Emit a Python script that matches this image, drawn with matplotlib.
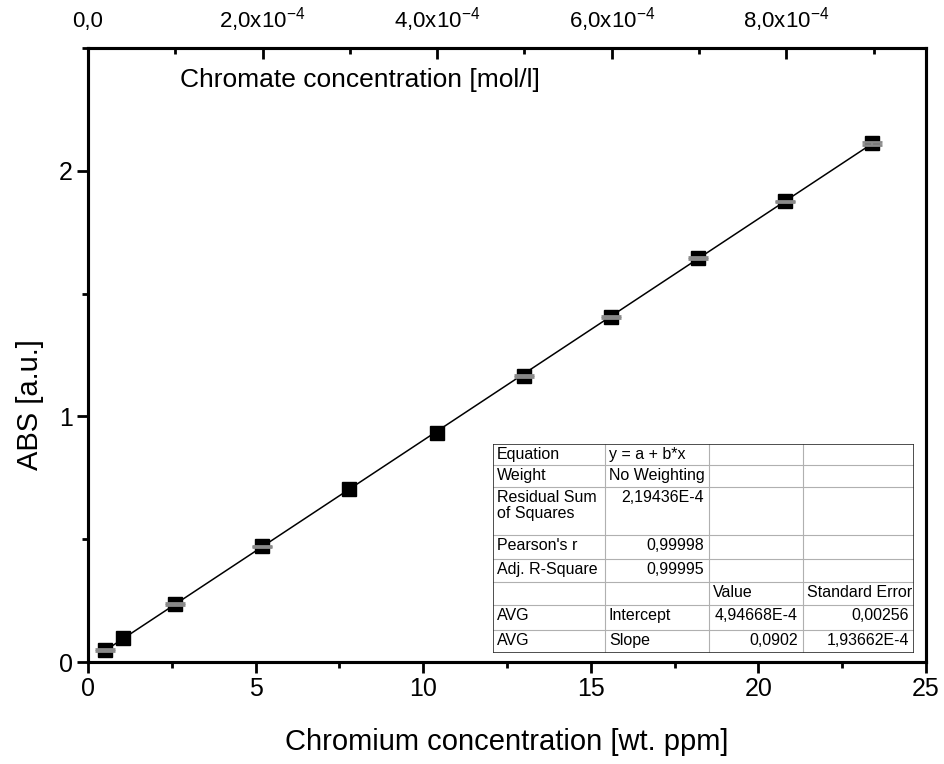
import numpy as np
import matplotlib.pyplot as plt
from matplotlib.ticker import MultipleLocator, FixedLocator

plt.rcParams['font.family'] = ['Liberation Sans', 'DejaVu Sans']
plt.rcParams['mathtext.fontset'] = 'custom'
plt.rcParams['mathtext.rm'] = 'Liberation Sans'
plt.rcParams['mathtext.it'] = 'Liberation Sans'

# Calibration data: chromium content vs absorbance
cr_ppm = [0.52, 1.04, 2.6, 5.2, 7.8, 10.4, 13.0, 15.6, 18.2, 20.8, 23.4]
abs_val = [0.048, 0.097, 0.238, 0.471, 0.703, 0.932, 1.166, 1.405, 1.645, 1.876, 2.113]
abs_err = [0.003, 0.0, 0.004, 0.003, 0.0, 0.0, 0.004, 0.004, 0.003, 0.002, 0.006]

# Linear fit results
intercept = 4.94668e-4
slope = 0.0902

top_ticks = [0.0, 2e-4, 4e-4, 6e-4, 8e-4]
top_labels = ['0,0', r'2,0x10$^{-4}$', r'4,0x10$^{-4}$', r'6,0x10$^{-4}$', r'8,0x10$^{-4}$']
top_max = 9.6e-4

table_rows = [
    ['Equation', 'y = a + b*x', '', ''],
    ['Weight', 'No Weighting', '', ''],
    ['Residual Sum\nof Squares', '2,19436E-4', '', ''],
    ["Pearson's r", '0,99998', '', ''],
    ['Adj. R-Square', '0,99995', '', ''],
    ['', '', 'Value', 'Standard Error'],
    ['AVG', 'Intercept', '4,94668E-4', '0,00256'],
    ['AVG', 'Slope', '0,0902', '1,93662E-4'],
]
# alignment per cell: l = left, r = right
table_align = [
    ['l', 'l', 'l', 'l'],
    ['l', 'l', 'l', 'l'],
    ['l', 'r', 'l', 'l'],
    ['l', 'r', 'l', 'l'],
    ['l', 'r', 'l', 'l'],
    ['l', 'l', 'l', 'l'],
    ['l', 'l', 'r', 'r'],
    ['l', 'l', 'r', 'r'],
]

W, H = 945, 764
fig = plt.figure(figsize=(W / 100, H / 100), dpi=100)
ax = fig.add_axes([88 / W, 1 - 662 / H, 838 / W, 614 / H])

x = np.array(cr_ppm)
y = np.array(abs_val)
err = np.array(abs_err)

xf = np.array([x.min(), x.max()])
ax.plot(xf, intercept + slope * xf, color='black', lw=1.1, zorder=2)
ax.plot(x, y, 's', color='black', ms=10.5, zorder=3)
m = err > 0
ax.errorbar(x[m], y[m], yerr=err[m], fmt='none', ecolor='#8a8a8a',
            elinewidth=1.5, capsize=7, capthick=2, zorder=4)

ax.set_xlim(0, 25)
ax.set_ylim(0, 2.5)
ax.xaxis.set_major_locator(MultipleLocator(5))
ax.xaxis.set_minor_locator(MultipleLocator(2.5))
ax.yaxis.set_major_locator(FixedLocator([0, 1, 2]))
ax.yaxis.set_minor_locator(MultipleLocator(0.5))
ax.tick_params(axis='both', which='major', direction='out', length=8, width=2,
               labelsize=18, pad=3)
ax.tick_params(axis='both', which='minor', direction='out', length=4, width=2)
for s in ax.spines.values():
    s.set_linewidth(2.2)

ax.set_xlabel('Chromium concentration [wt. ppm]', fontsize=21)
ax.xaxis.set_label_coords(0.5, -0.108)
ax.set_ylabel('ABS [a.u.]', fontsize=21)
ax.yaxis.set_label_coords(-0.052, 0.42)

# Top axis in molar units
ax2 = ax.twiny()
ax2.set_xlim(0, top_max)
ax2.set_xticks(top_ticks)
ax2.set_xticklabels(top_labels)
ax2.xaxis.set_minor_locator(MultipleLocator(1e-4))
ax2.tick_params(axis='x', which='major', direction='in', length=8, width=2,
                labelsize=16, pad=15)
ax2.tick_params(axis='x', which='minor', direction='in', length=4, width=2)
for lab in ax2.get_xticklabels():
    lab.set_verticalalignment('baseline')
for s in ax2.spines.values():
    s.set_linewidth(2.2)
ax.text(0.11, 0.948, 'Chromate concentration [mol/l]', transform=ax.transAxes,
        fontsize=19, ha='left', va='center')

# Fit result table
tx0, ty0, tx1, ty1 = 493, 444, 914, 653
col_x = [tx0, 605, 709, 803, tx1]
row_h = [21, 22, 48, 24, 23, 23, 25, 23]
tab = fig.add_axes([tx0 / W, 1 - ty1 / H, (tx1 - tx0) / W, (ty1 - ty0) / H])
tab.set_xlim(tx0, tx1)
tab.set_ylim(ty1, ty0)
tab.axis('off')
tab.patch.set_visible(False)
fig.patches.append(plt.Rectangle((tx0 / W, 1 - ty1 / H), (tx1 - tx0) / W,
                                 (ty1 - ty0) / H, transform=fig.transFigure,
                                 facecolor='white', edgecolor='none', zorder=5))
tab.set_zorder(6)
row_y = np.concatenate([[ty0], ty0 + np.cumsum(row_h)])
for yy in row_y[1:-1]:
    tab.plot([tx0, tx1], [yy, yy], color='#b0b0b0', lw=0.8)
for xx in col_x[1:-1]:
    tab.plot([xx, xx], [ty0, ty1], color='#b0b0b0', lw=0.8)
tab.plot([tx0, tx1, tx1, tx0, tx0], [ty0, ty0, ty1, ty1, ty0], color='#303030', lw=1.2)
for r, row in enumerate(table_rows):
    for c, txt in enumerate(row):
        if not txt:
            continue
        if table_align[r][c] == 'l':
            xt, ha = col_x[c] + 4, 'left'
        else:
            xt, ha = col_x[c + 1] - 5, 'right'
        tab.text(xt, row_y[r] + 3, txt, fontsize=11.5, ha=ha, va='top',
                 linespacing=1.05)

fig.savefig('out.png', dpi=100)
